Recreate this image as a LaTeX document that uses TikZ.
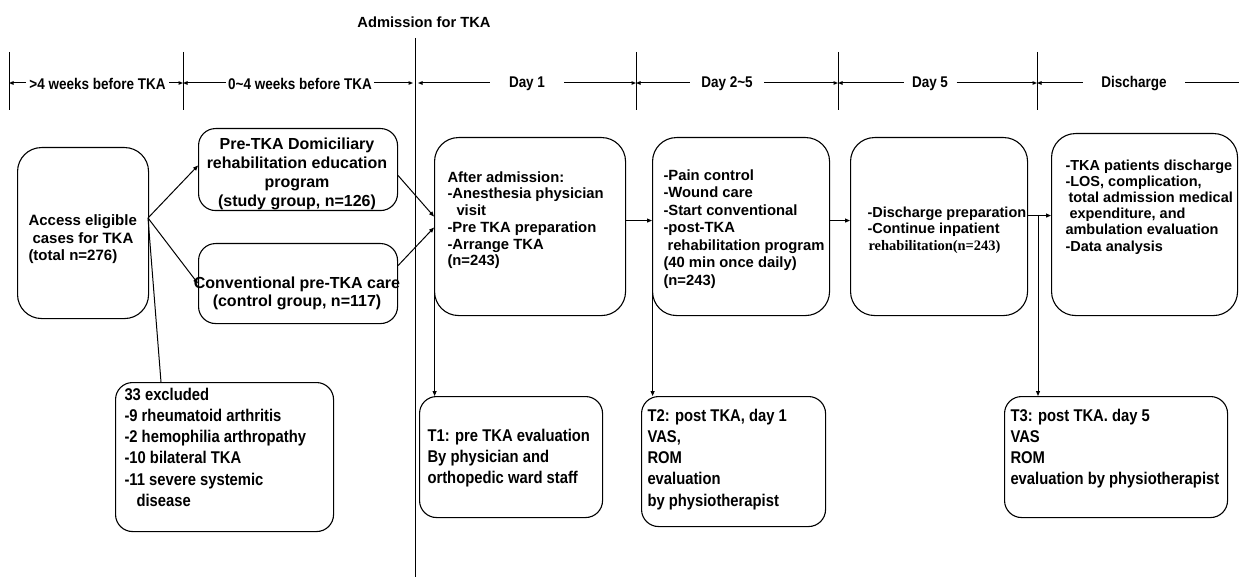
\documentclass[tikz,border=0pt]{standalone}
\usepackage{fontspec}
\setmainfont{Liberation Sans}
\newfontfamily\narrowf{Liberation Sans}[FakeStretch=0.87]
\newfontfamily\seriff{Liberation Serif}
\usetikzlibrary{arrows.meta,calc}
\begin{document}
\begin{tikzpicture}[x=1pt,y=-1pt,line width=1pt,
  box/.style={draw,rounded corners=24pt,line width=1.1pt,inner sep=0pt,anchor=north west},
  sbox/.style={draw,rounded corners=17pt,line width=1.1pt,inner sep=0pt,anchor=north west},
  arr/.style={-{Triangle[length=5pt,width=4pt]}},
  tarr/.style={-{Triangle[length=4.5pt,width=3.5pt]}},
  txt/.style={anchor=north west,inner sep=0pt,align=left},
  mfont/.style={font=\bfseries\fontsize{14.8}{16.7}\selectfont},
  nfont/.style={font=\narrowf\bfseries\fontsize{17}{21.2}\selectfont},
  tl/.style={font=\narrowf\bfseries\fontsize{15.5}{17}\selectfont,inner ysep=0pt}]
\useasboundingbox (0,0) rectangle (1239,577);

% header
\node[font=\bfseries\fontsize{14.7}{17}\selectfont,inner sep=0pt] (adm0) at (424,22) {Admission for TKA};
\draw (415,38) -- (415,577);

% timeline ticks
\foreach \x in {9,183,636,838,1037} \draw (\x,52) -- (\x,110);
\coordinate (k0) at (9,83);
\coordinate (k1) at (183,83);
\coordinate (k2a) at (413,83);
\coordinate (k2b) at (418,83);
\coordinate (k3) at (636,83);
\coordinate (k4) at (838,83);
\coordinate (k5) at (1037,83);
\coordinate (k6) at (1239,83);

\node[tl,inner xsep=3pt] (l1) at (97.5,84) {>4 weeks before TKA};
\node[tl,inner xsep=2pt] (l2) at (300,84) {0\textasciitilde4 weeks before TKA};
\node[tl,inner xsep=19pt] (l3) at (527,84) {Day 1};
\node[tl,inner xsep=11pt] (l4) at (727,84) {Day 2\textasciitilde5};
\node[tl,inner xsep=8pt] (l5) at (930,84) {Day 5};
\node[tl,inner xsep=18pt] (l6) at (1134,84) {Discharge};

\draw[tarr] (l1.west|-k0) -- (k0);
\draw[tarr] (l1.east|-k0) -- (k1);
\draw[tarr] (l2.west|-k0) -- (k1);
\draw[tarr] (l2.east|-k0) -- (k2a);
\draw[tarr] (l3.west|-k0) -- (k2b);
\draw[tarr] (l3.east|-k0) -- (k3);
\draw[tarr] (l4.west|-k0) -- (k3);
\draw[tarr] (l4.east|-k0) -- (k4);
\draw[tarr] (l5.west|-k0) -- (k4);
\draw[tarr] (l5.east|-k0) -- (k5);
\draw[tarr] (l6.west|-k0) -- (k5);
\draw (l6.east|-k0) -- (k6);

% boxes
\node[box,minimum width=131pt,minimum height=171pt] (acc) at (17,147) {};
\node[box,rounded corners=17pt,minimum width=199pt,minimum height=82pt] (dom) at (198,128) {};
\node[box,rounded corners=17pt,minimum width=199pt,minimum height=80pt] (conv) at (198,243) {};
\node[box,minimum width=191pt,minimum height=178pt] (adm) at (434,137) {};
\node[box,minimum width=177pt,minimum height=178pt] (pain) at (652,137) {};
\node[box,minimum width=177pt,minimum height=178pt] (prep) at (850,137) {};
\node[box,minimum width=186pt,minimum height=182pt] (dis) at (1051,133) {};
\node[sbox,minimum width=218pt,minimum height=149pt] (excl) at (115,382) {};
\node[sbox,minimum width=183pt,minimum height=121pt] (t1) at (419,396) {};
\node[sbox,minimum width=184pt,minimum height=130pt] (t2) at (641,396) {};
\node[sbox,minimum width=223pt,minimum height=121pt] (t3) at (1004,396) {};

% texts
\node[txt,font=\bfseries\fontsize{15}{17.5}\selectfont] at (28,214.5) {Access eligible\\\hspace*{4pt}cases for TKA\\(total n=276)};
\node[anchor=north,inner sep=0pt,align=center,font=\bfseries\fontsize{16}{19}\selectfont] at (297,137) {Pre-TKA Domiciliary\\rehabilitation education\\program\\(study group, n=126)};
\node[anchor=north,inner sep=0pt,align=center,font=\bfseries\fontsize{16}{18.5}\selectfont] at (297,276) {Conventional pre-TKA care\\(control group, n=117)};
\node[txt,mfont] at (447,171) {After admission:\\-Anesthesia physician\\\hspace*{9pt}visit\\-Pre TKA preparation\\-Arrange TKA\\(n=243)};
\node[txt,font=\bfseries\fontsize{14.8}{17.5}\selectfont] at (663,169) {-Pain control\\-Wound care\\-Start conventional\\-post-TKA\\\hspace*{4pt}rehabilitation program\\(40 min once daily)\\(n=243)};
\node[txt,font=\bfseries\fontsize{14.5}{16.5}\selectfont] at (867,206) {-Discharge preparation\\-Continue inpatient\\\hspace*{1pt}{\seriff rehabilitation(n=243)}};
\node[txt,font=\bfseries\fontsize{14.5}{16.2}\selectfont] at (1065,159) {-TKA patients discharge\\-LOS, complication,\\\hspace*{3pt}total admission medical\\\hspace*{4pt}expenditure, and\\ambulation evaluation\\-Data analysis};
\node[txt,nfont] at (124,387.5) {33 excluded\\-9 rheumatoid arthritis\\-2 hemophilia arthropathy\\-10 bilateral TKA\\-11 severe systemic\\\hspace*{12pt}disease};
\node[txt,nfont] at (427,428.5) {T1: pre TKA evaluation\\By physician and\\orthopedic ward staff};
\node[txt,nfont] at (647,408.5) {T2: post TKA, day 1\\VAS,\\ROM\\evaluation\\by physiotherapist};
\node[txt,nfont] at (1010,408.5) {T3: post TKA. day 5\\VAS\\ROM\\evaluation by physiotherapist};

% connectors
\coordinate (j) at (148,218);
\draw[arr] (j) -- ([yshift=4pt]dom.west);
\draw[arr] (j) -- (conv.west);
\draw (j) -- ($(excl.north west)+(46,0)$);
\draw[arr] ([yshift=-6pt]dom.east) -- ([yshift=10pt]adm.west);
\draw[arr] ([yshift=18pt]conv.east) -- ([yshift=-1pt]adm.west);
\draw[arr] ([yshift=6pt]adm.east) -- ([yshift=6pt]pain.west);
\draw[arr] ([yshift=6pt]pain.east) -- ([yshift=6pt]prep.west);
\draw[arr] ([yshift=11pt]prep.east) -- ([yshift=11pt]prep.east -| dis.west);
\coordinate (k) at (1038,215);
\draw[arr] ([xshift=0.6pt,yshift=24pt]adm.south west) -- ([xshift=0.6pt]adm.south west |- t1.north);
\draw[arr] ([xshift=0.6pt,yshift=24pt]pain.south west) -- ([xshift=0.6pt]pain.south west |- t2.north);
\draw[arr] (k) -- (k |- t3.north);
\end{tikzpicture}
\end{document}
